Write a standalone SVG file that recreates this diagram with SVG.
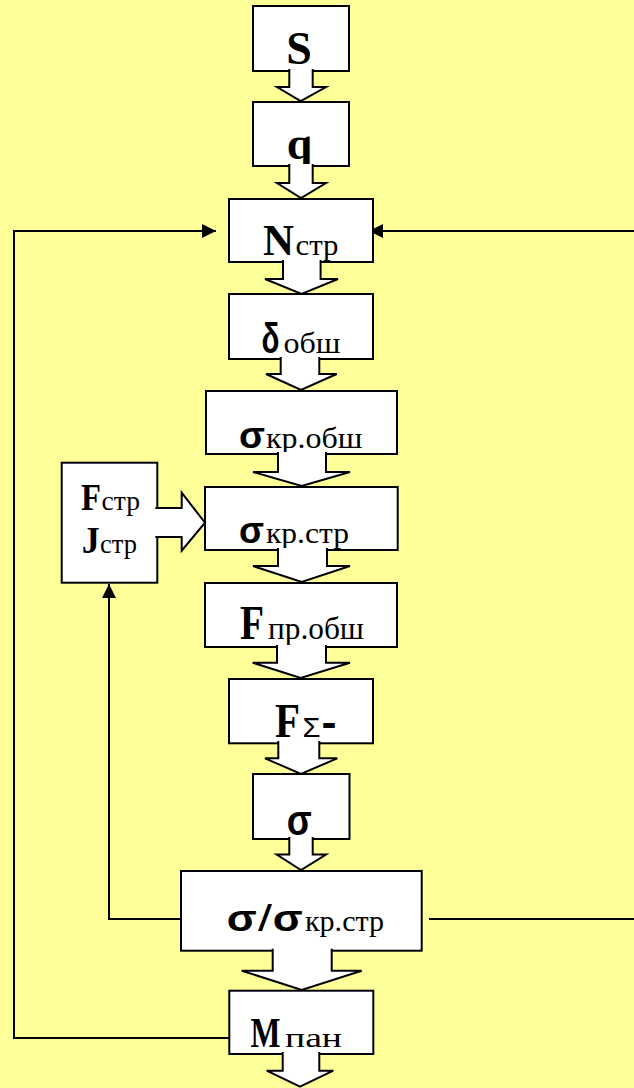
<svg xmlns="http://www.w3.org/2000/svg" width="634" height="1088" viewBox="0 0 634 1088">
  <style>
    .box { fill: #FFFFFF; stroke: #000000; stroke-width: 2; }
    .barrow { fill: #FFFFFF; stroke: #000000; stroke-width: 2; stroke-linejoin: miter; }
    .link { fill: none; stroke: #000000; stroke-width: 2; }
    text { fill: #000000; }
    .big { font-family: 'Liberation Serif', 'Times New Roman', Times, serif; font-weight: 700; }
    .sub { font-family: 'Liberation Serif', 'Times New Roman', Times, serif; font-weight: 400; }
    .gr { font-family: 'Liberation Sans', Arial, sans-serif; font-weight: 700; }
    .grn { font-family: 'Liberation Sans', Arial, sans-serif; font-weight: 400; }
  </style>
  <defs>
    <marker id="tri" markerWidth="15" markerHeight="14" refX="14" refY="7" orient="auto" markerUnits="userSpaceOnUse">
      <path d="M0,0 L14,7 L0,14 Z" fill="#000"/>
    </marker>
  </defs>

  <rect width="634" height="1088" fill="#FFFF99"/>

  <!-- feedback connectors -->
  <g id="connectors">
    <path class="link" d="M229,1038 H14 V231 H216" marker-end="url(#tri)"/>
    <path class="link" d="M429,919 H640 V231 H369" marker-end="url(#tri)"/>
    <path class="link" d="M181,919 H109 V584" marker-end="url(#tri)"/>
  </g>

  <g id="node-S">
    <rect class="box" x="253" y="6" width="96" height="65"/>
    <text class="big" x="299" y="64" font-size="46" text-anchor="middle">S</text>
  </g>
  <g id="node-q">
    <rect class="box" x="253" y="102" width="96" height="64"/>
    <text class="big" x="299.5" y="159" font-size="46" text-anchor="middle">q</text>
  </g>
  <g id="node-N">
    <rect class="box" x="229" y="199" width="144" height="63"/>
    <text class="big" x="263" y="255" font-size="44" textLength="31" lengthAdjust="spacingAndGlyphs">N</text>
    <text class="sub" x="295.5" y="255" font-size="30" textLength="43" lengthAdjust="spacingAndGlyphs">стр</text>
  </g>
  <g id="node-delta">
    <rect class="box" x="229" y="294" width="144" height="65"/>
    <text class="gr" x="261.5" y="352.7" font-size="42" textLength="18" lengthAdjust="spacingAndGlyphs">δ</text>
    <text class="sub" x="283.5" y="352.7" font-size="30" textLength="57" lengthAdjust="spacingAndGlyphs">обш</text>
  </g>
  <g id="node-sigma-kr-obsh">
    <rect class="box" x="206" y="391" width="191" height="63"/>
    <text class="gr" x="239" y="448.3" font-size="37" textLength="26" lengthAdjust="spacingAndGlyphs">σ</text>
    <text class="sub" x="266" y="448.3" font-size="30" textLength="96.5" lengthAdjust="spacingAndGlyphs">кр.обш</text>
  </g>
  <g id="node-FJ">
    <rect class="box" x="61.7" y="462.7" width="95.6" height="120"/>
    <text class="big" x="81" y="510" font-size="37" textLength="20" lengthAdjust="spacingAndGlyphs">F</text>
    <text class="sub" x="101.5" y="510" font-size="28" textLength="38.5" lengthAdjust="spacingAndGlyphs">стр</text>
    <text class="big" x="81.7" y="553" font-size="37" textLength="18" lengthAdjust="spacingAndGlyphs">J</text>
    <text class="sub" x="100" y="553" font-size="28" textLength="37" lengthAdjust="spacingAndGlyphs">стр</text>
  </g>
  <g id="node-sigma-kr-str">
    <rect class="box" x="205" y="487" width="192.7" height="63"/>
    <text class="gr" x="239" y="542.7" font-size="36" textLength="25" lengthAdjust="spacingAndGlyphs">σ</text>
    <text class="sub" x="266" y="542.7" font-size="30" textLength="83" lengthAdjust="spacingAndGlyphs">кр.стр</text>
  </g>
  <g id="node-F-pr-obsh">
    <rect class="box" x="205" y="583" width="192" height="64"/>
    <text class="big" x="240" y="639" font-size="48" textLength="24" lengthAdjust="spacingAndGlyphs">F</text>
    <text class="sub" x="268" y="639" font-size="31" textLength="96" lengthAdjust="spacingAndGlyphs">пр.обш</text>
  </g>
  <g id="node-F-sum">
    <rect class="box" x="229" y="679" width="144" height="64.3"/>
    <text class="big" x="275" y="736.7" font-size="48" textLength="25" lengthAdjust="spacingAndGlyphs">F</text>
    <text class="grn" x="302.5" y="736.7" font-size="27" textLength="18" lengthAdjust="spacingAndGlyphs">Σ</text>
    <text class="gr" x="321.5" y="736.7" font-size="42" textLength="15" lengthAdjust="spacingAndGlyphs">-</text>
  </g>
  <g id="node-sigma">
    <rect class="box" x="253" y="774" width="96.5" height="65"/>
    <text class="gr" x="286.7" y="835" font-size="42" textLength="25" lengthAdjust="spacingAndGlyphs">σ</text>
  </g>
  <g id="node-ratio">
    <rect class="box" x="181" y="871" width="240.7" height="79.7"/>
    <text class="gr" x="226.7" y="930.7" font-size="36" textLength="30" lengthAdjust="spacingAndGlyphs">σ</text>
    <text class="grn" x="258" y="930.7" font-size="36" textLength="14" lengthAdjust="spacingAndGlyphs">/</text>
    <text class="gr" x="272.7" y="930.7" font-size="36" textLength="30" lengthAdjust="spacingAndGlyphs">σ</text>
    <text class="sub" x="305" y="930.7" font-size="30" textLength="79" lengthAdjust="spacingAndGlyphs">кр.стр</text>
  </g>
  <g id="node-M">
    <rect class="box" x="229.3" y="990.7" width="144" height="63.3"/>
    <text class="big" x="250.5" y="1047.3" font-size="42" textLength="30" lengthAdjust="spacingAndGlyphs">M</text>
    <text class="sub" x="285" y="1047.3" font-size="28" textLength="57" lengthAdjust="spacingAndGlyphs">пан</text>
  </g>

  <!-- block arrows between the nodes (open at the top so they merge with the box above) -->
  <g id="block-arrows">
    <path class="barrow" d="M289.3,69 V87 H277 L300.7,101 L326,87 H312.7 V69"/>
    <path class="barrow" d="M289.3,164 V183 H277 L301,198 L326,183 H312.7 V164"/>
    <path class="barrow" d="M283,260 V279 H265 L301.6,294 L338,279 H320.6 V260"/>
    <path class="barrow" d="M280.7,357 V374 H266 L301,390 L336.7,374 H319.3 V357"/>
    <path class="barrow" d="M278,452 V472 H253 L301.7,486 L350,472 H326 V452"/>
    <path class="barrow" d="M155.3,508 H181.7 V492.7 L205,522.7 L181.7,550.7 V537 H155.3"/>
    <path class="barrow" d="M278,548 V566 H253 L301.7,582 L350,566 H327 V548"/>
    <path class="barrow" d="M277,645 V662.7 H252.7 L300.7,678 L350,662.7 H326 V645"/>
    <path class="barrow" d="M278.3,741 V758.3 H265 L301,774 L337.3,758.3 H319.3 V741"/>
    <path class="barrow" d="M289.3,837 V854.5 H276.7 L301,870 L326,854.5 H312.7 V837"/>
    <path class="barrow" d="M272.7,948.7 V970.7 H241.7 L301.7,990 L361.7,970.7 H331.7 V948.7"/>
    <path class="barrow" d="M282.7,1052 V1070.7 H266.7 L300,1086.7 L333.3,1070.7 H319.3 V1052"/>
  </g>
</svg>
